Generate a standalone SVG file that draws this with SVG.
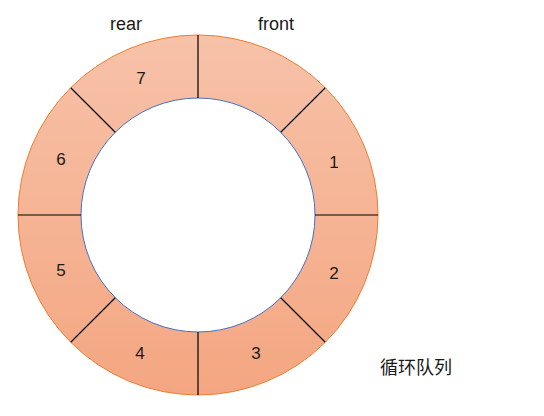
<svg xmlns="http://www.w3.org/2000/svg" width="544" height="416" viewBox="0 0 544 416">
<style>
.cell{fill:url(#g);stroke:none}
.num{font-family:"Liberation Sans","Noto Sans CJK SC",sans-serif;font-size:17px;fill:#1a1a1a;text-anchor:middle}
.lbl{font-family:"Liberation Sans","Noto Sans CJK SC",sans-serif;font-size:18px;fill:#1a1a1a;text-anchor:middle}
.div{stroke:#000;stroke-width:1.2}
</style>
<defs>
<linearGradient id="g" gradientUnits="userSpaceOnUse" x1="0" y1="35" x2="0" y2="395">
<stop offset="0" stop-color="#F7C2A9"/>
<stop offset="1" stop-color="#F4A681"/>
</linearGradient>
</defs>
<rect width="544" height="416" fill="#fff"/>
<g id="cell0"><path class="cell" d="M198,35 A180,180 0 0 1 325.28,87.72 L280.73,132.27 A117,117 0 0 0 198,98 Z"/></g>
<g id="cell1"><path class="cell" d="M325.28,87.72 A180,180 0 0 1 378,215 L315,215 A117,117 0 0 0 280.73,132.27 Z"/><text class="num" x="334" y="168">1</text></g>
<g id="cell2"><path class="cell" d="M378,215 A180,180 0 0 1 325.28,342.28 L280.73,297.73 A117,117 0 0 0 315,215 Z"/><text class="num" x="334" y="279">2</text></g>
<g id="cell3"><path class="cell" d="M325.28,342.28 A180,180 0 0 1 198,395 L198,332 A117,117 0 0 0 280.73,297.73 Z"/><text class="num" x="256" y="359">3</text></g>
<g id="cell4"><path class="cell" d="M198,395 A180,180 0 0 1 70.72,342.28 L115.27,297.73 A117,117 0 0 0 198,332 Z"/><text class="num" x="140" y="359">4</text></g>
<g id="cell5"><path class="cell" d="M70.72,342.28 A180,180 0 0 1 18,215 L81,215 A117,117 0 0 0 115.27,297.73 Z"/><text class="num" x="61" y="276">5</text></g>
<g id="cell6"><path class="cell" d="M18,215 A180,180 0 0 1 70.72,87.72 L115.27,132.27 A117,117 0 0 0 81,215 Z"/><text class="num" x="61" y="165">6</text></g>
<g id="cell7"><path class="cell" d="M70.72,87.72 A180,180 0 0 1 198,35 L198,98 A117,117 0 0 0 115.27,132.27 Z"/><text class="num" x="141" y="84">7</text></g>
<g id="rings">
<circle cx="198" cy="215" r="180" fill="none" stroke="#ED7D31" stroke-width="1"/>
<circle cx="198" cy="215" r="117" fill="none" stroke="#4472C4" stroke-width="1"/>
</g>
<g id="connectors">
<line class="div" x1="198" y1="35" x2="198" y2="98"/>
<line class="div" x1="325.28" y1="87.72" x2="280.73" y2="132.27"/>
<line class="div" x1="378" y1="215" x2="315" y2="215"/>
<line class="div" x1="325.28" y1="342.28" x2="280.73" y2="297.73"/>
<line class="div" x1="198" y1="395" x2="198" y2="332"/>
<line class="div" x1="70.72" y1="342.28" x2="115.27" y2="297.73"/>
<line class="div" x1="18" y1="215" x2="81" y2="215"/>
<line class="div" x1="70.72" y1="87.72" x2="115.27" y2="132.27"/>
</g>
<g id="front"><text class="lbl" x="276" y="30">front</text></g>
<g id="rear"><text class="lbl" x="126" y="30">rear</text></g>
<g id="title"><text class="lbl" x="416" y="374">循环队列</text></g>
</svg>
